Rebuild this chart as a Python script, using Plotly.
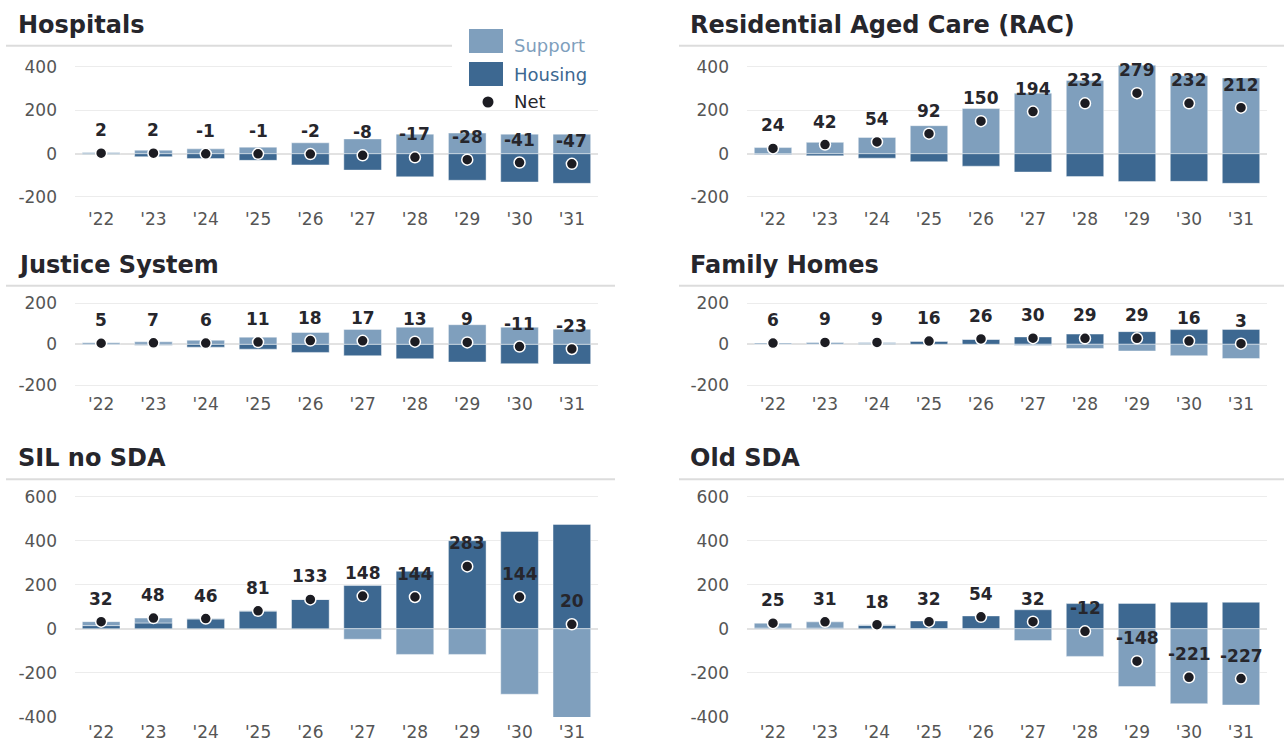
import plotly.graph_objects as go

years = ["'22", "'23", "'24", "'25", "'26", "'27", "'28", "'29", "'30", "'31"]

hosp_support = [5, 16, 22, 30, 50, 68, 90, 95, 90, 90]
hosp_housing = [-3, -14, -23, -31, -52, -76, -107, -123, -131, -137]
hosp_net = [2, 2, -1, -1, -2, -8, -17, -28, -41, -47]

rac_support = [28, 52, 75, 129, 208, 279, 338, 408, 360, 349]
rac_housing = [-4, -10, -21, -37, -58, -85, -106, -129, -128, -137]
rac_net = [24, 42, 54, 92, 150, 194, 232, 279, 232, 212]

just_support = [7, 12, 20, 35, 58, 73, 84, 96, 84, 74]
just_housing = [-2, -5, -14, -24, -40, -56, -71, -87, -95, -97]
just_net = [5, 7, 6, 11, 18, 17, 13, 9, -11, -23]

fam_support = [5, 8, 5, 1, 2, -6, -21, -33, -56, -70]
fam_housing = [1, 1, 4, 15, 24, 36, 50, 62, 72, 73]
fam_net = [6, 9, 9, 16, 26, 30, 29, 29, 16, 3]

sil_support = [18, 22, 2, 1, 0, -48, -117, -117, -298, -454]
sil_housing = [14, 26, 44, 80, 133, 196, 261, 400, 442, 474]
sil_net = [32, 48, 46, 81, 133, 148, 144, 283, 144, 20]

old_support = [22, 28, 3, -3, -4, -54, -126, -263, -341, -347]
old_housing = [3, 3, 15, 35, 58, 86, 114, 115, 120, 120]
old_net = [25, 31, 18, 32, 54, 32, -12, -148, -221, -227]

panel_titles = ["Hospitals", "Residential Aged Care (RAC)", "Justice System",
                "Family Homes", "SIL no SDA", "Old SDA"]
panel_support = [hosp_support, rac_support, just_support, fam_support, sil_support, old_support]
panel_housing = [hosp_housing, rac_housing, just_housing, fam_housing, sil_housing, old_housing]
panel_net = [hosp_net, rac_net, just_net, fam_net, sil_net, old_net]

# y tick values / labels per row of panels
row_ticks = [[-200, 0, 200, 400], [-200, 0, 200], [-400, -200, 0, 200, 400, 600]]
row_ticklabels = [["-200", "0", "200", "400"], ["-200", "0", "200"],
                  ["-400", "-200", "0", "200", "400", "600"]]
legend_labels = ["Support", "Housing", "Net"]

W, H = 1284, 744
SUPPORT_C = "#7f9fbd"
HOUSING_C = "#3d6891"
NET_C = "#1c1c22"
TEXT_C = "#26262c"
TICK_C = "#555555"
GRID_C = "#ececec"
FONT = "DejaVu Sans"


def px(x):
    return x / W


def py(y):
    return 1 - y / H


# layout geometry in pixels
col_x = [(75, 598), (747, 1267)]
row_y = [(58.3, 201.3), (297.4, 388.1), (491.2, 717.1)]
row_range = [[-220, 440], [-215, 230], [-402, 625]]
row_standoff = [6, 4, 3]
title_y = [24.5, 264.5, 458]
line_y = [45.7, 285.7, 479.3]
title_x = [16, 688]
line_x = [[(6, 452), (679, 1284)], [(6, 615), (679, 1284)], [(6, 615), (679, 1284)]]

fig = go.Figure()
annotations = []
shapes = []

for i, title in enumerate(panel_titles):
    sup, hou, net = panel_support[i], panel_housing[i], panel_net[i]
    r, c = divmod(i, 2)
    n = i + 1
    xa = "x" if n == 1 else f"x{n}"
    ya = "y" if n == 1 else f"y{n}"
    edge = dict(color="rgba(255,255,255,0.55)", width=0.8)
    fig.add_trace(go.Bar(x=years, y=hou, name="Housing", marker=dict(color=HOUSING_C, line=edge),
                         xaxis=xa, yaxis=ya, showlegend=False))
    fig.add_trace(go.Bar(x=years, y=sup, name="Support", marker=dict(color=SUPPORT_C, line=edge),
                         xaxis=xa, yaxis=ya, showlegend=False))
    fig.add_trace(go.Scatter(x=years, y=net, name="Net", mode="markers",
                             marker=dict(color=NET_C, size=11, line=dict(color="white", width=1.5)),
                             xaxis=xa, yaxis=ya, showlegend=False, cliponaxis=False))
    for yr, v in zip(years, net):
        annotations.append(dict(x=yr, y=v, xref=xa, yref=ya, text=f"<b>{v}</b>", showarrow=False,
                                yshift=23, font=dict(family=FONT, size=17, color=TEXT_C)))
    x0, x1 = col_x[c]
    y0, y1 = row_y[r]
    axkey = "xaxis" if n == 1 else f"xaxis{n}"
    aykey = "yaxis" if n == 1 else f"yaxis{n}"
    fig.layout[axkey] = dict(domain=[px(x0), px(x1)], anchor=ya, range=[-0.5, 9.5], type="category",
                             showgrid=False, zeroline=False, automargin=False,
                             showline=False, ticks="", tickfont=dict(family=FONT, size=17, color=TICK_C),
                             fixedrange=True, ticklabelstandoff=row_standoff[r])
    fig.layout[aykey] = dict(domain=[py(y1), py(y0)], anchor=xa, range=row_range[r], automargin=False,
                             tickmode="array", tickvals=row_ticks[r], ticktext=row_ticklabels[r],
                             showgrid=True, gridcolor=GRID_C, gridwidth=1,
                             zeroline=True, zerolinecolor="#e2e2e2", zerolinewidth=1.5,
                             showline=False, ticks="", tickfont=dict(family=FONT, size=17, color=TICK_C),
                             ticklabelstandoff=17, fixedrange=True)
    annotations.append(dict(x=px(title_x[c]), y=py(title_y[r]), xref="paper", yref="paper",
                            xanchor="left", yanchor="middle", showarrow=False, text=f"<b>{title}</b>",
                            font=dict(family=FONT, size=24, color=TEXT_C)))
    lx0, lx1 = line_x[r][c]
    shapes.append(dict(type="line", xref="paper", yref="paper", x0=px(lx0), x1=px(lx1),
                       y0=py(line_y[r]), y1=py(line_y[r]), line=dict(color="#dcdcdc", width=2)))

# legend box (top right of Hospitals), covering the gridline behind it
shapes.append(dict(type="rect", xref="paper", yref="paper", layer="above", x0=px(452), x1=px(622),
                   y0=py(108), y1=py(18), fillcolor="white", line=dict(width=0)))
shapes.append(dict(type="rect", xref="paper", yref="paper", layer="above", x0=px(469), x1=px(503),
                   y0=py(53), y1=py(29), fillcolor=SUPPORT_C, line=dict(width=0)))
shapes.append(dict(type="rect", xref="paper", yref="paper", layer="above", x0=px(469), x1=px(503),
                   y0=py(86), y1=py(62), fillcolor=HOUSING_C, line=dict(width=0)))
shapes.append(dict(type="circle", xref="paper", yref="paper", layer="above", x0=px(482.5), x1=px(493.5),
                   y0=py(107.5), y1=py(96.5), fillcolor=NET_C, line=dict(width=0)))
for txt, yy, col in zip(legend_labels, [45, 74, 102], [SUPPORT_C, HOUSING_C, TEXT_C]):
    annotations.append(dict(x=px(512), y=py(yy), xref="paper", yref="paper", xanchor="left", yanchor="middle",
                            showarrow=False, text=txt, font=dict(family=FONT, size=18, color=col)))

fig.update_layout(
    width=W, height=H, barmode="relative", bargap=0.28,
    paper_bgcolor="white", plot_bgcolor="white",
    margin=dict(l=0, r=0, t=0, b=0, pad=0),
    annotations=annotations, shapes=shapes, showlegend=False,
    font=dict(family=FONT),
)

fig.write_html("out.html", config={"displayModeBar": False},
               post_script="document.body.style.margin='0px';document.body.style.overflow='hidden';")
